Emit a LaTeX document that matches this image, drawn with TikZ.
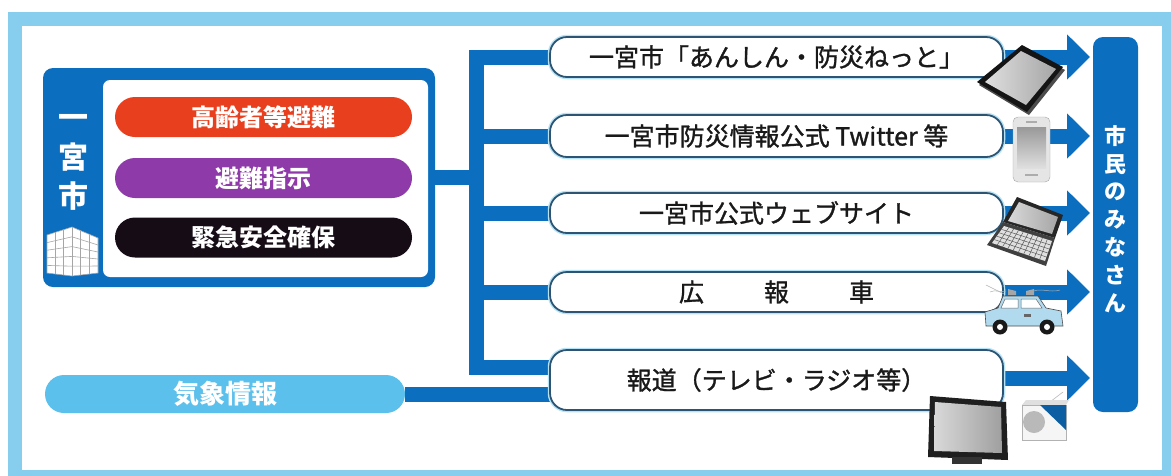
\documentclass[tikz,border=0pt]{standalone}
\usepackage{fontspec}
\setmainfont{Noto Sans CJK JP}
\newfontfamily\chanfont{Noto Sans CJK JP}[FakeBold=1.2]
\usetikzlibrary{arrows.meta,calc}

\definecolor{frameblue}{RGB}{135,205,238}
\definecolor{cityblue}{RGB}{12,110,190}
\definecolor{edgeblue}{RGB}{45,85,115}
\definecolor{alertred}{RGB}{232,64,30}
\definecolor{alertpurple}{RGB}{142,58,168}
\definecolor{alertblack}{RGB}{22,12,22}
\definecolor{skyblue}{RGB}{92,192,236}
\definecolor{inktext}{RGB}{25,25,25}
\definecolor{carblue}{RGB}{178,218,238}

\pgfdeclarelayer{back}
\pgfdeclarelayer{mid}
\pgfsetlayers{back,mid,main}

\begin{document}
\begin{tikzpicture}[x=1pt,y=-1pt,
  pill/.style={rounded corners=20pt, minimum width=297pt, minimum height=40pt,
    inner sep=0pt, text=white, font=\fontsize{24}{24}\selectfont\bfseries},
  chanbox/.style={draw=edgeblue, line width=1.8pt, fill=white,
    preaction={draw=skyblue!45, line width=4.5pt},
    rounded corners=17pt, minimum width=453pt, minimum height=40pt,
    inner sep=0pt, text=inktext, font=\chanfont\fontsize{25}{25}\selectfont},
  bus/.style={draw=cityblue, line width=15pt},
  flow/.style={draw=cityblue, line width=15pt, -{Triangle[length=23pt,width=44pt]}},
  vlabel/.style={text=white, align=center, inner sep=0pt}]

\useasboundingbox (0,0) rectangle (1171,475);
\clip (0,0) rectangle (1171,475);

% page and outer frame
\begin{pgfonlayer}{back}
  \fill[white] (0,0) rectangle (1171,475);
  \draw[frameblue, line width=14pt] (15,18.5) rectangle (1169,477);
\end{pgfonlayer}

% issuing city block
\node[fill=cityblue, rounded corners=10pt, minimum width=392pt, minimum height=219pt, inner sep=0pt] (city) at (239,177.5) {};
\node[fill=white, rounded corners=7pt, minimum width=325pt, minimum height=197pt, inner sep=0pt] (cityin) at (265.5,178.5) {};
\node[vlabel, font=\fontsize{30}{39.5}\selectfont\bfseries] (cityname) at (73,162.5) {一\\宮\\市};

\node[pill, fill=alertred] (p1) at (263.5,117) {高齢者等避難};
\node[pill, fill=alertpurple] (p2) at (263.5,178) {避難指示};
\node[pill, fill=alertblack] (p3) at (263.5,237.5) {緊急安全確保};

% weather information
\node[pill, fill=skyblue, minimum width=360pt, minimum height=38pt, rounded corners=19pt,
  font=\fontsize{26}{26}\selectfont\bfseries] (wx) at (225,394) {気象情報};

% channels
\node[chanbox] (b1) at (776.5,57) {一宮市「あんしん・防災ねっと」};
\node[chanbox, minimum height=42pt] (b2) at (776.5,136) {一宮市防災情報公式 Twitter 等};
\node[chanbox] (b3) at (776.5,213) {一宮市公式ウェブサイト};
\node[chanbox] (b4) at (776.5,292) {広\hspace{60pt}報\hspace{60pt}車};
\node[chanbox, minimum height=60pt] (b5) at (776.5,380) {報道（テレビ・ラジオ等）};

% residents
\node[fill=cityblue, rounded corners=10pt, minimum width=45pt, minimum height=375pt, inner sep=0pt] (ppl) at (1115.5,224.5) {};
\node[vlabel, font=\fontsize{22}{27.8}\selectfont\bfseries] (pplname) at (1115.5,219) {市\\民\\の\\み\\な\\さ\\ん};

\coordinate (busx) at (476,0);
\coordinate (tipx) at (1090,0);

% distribution lines and arrows
\begin{pgfonlayer}{mid}
  \draw[bus] (b1.west) -- (b1.west -| busx) |- ($(b5.west)+(10,-13)$);
  \foreach \b in {b2,b3,b4} \draw[bus] (\b.west) -- (\b.west -| busx);
  \draw[bus] (city.east) -- (city.east -| busx);
  \draw[bus] (wx.east) -- ($(b5.west)+(10,14)$);
  \foreach \b in {b1,b2,b3,b4} \draw[flow] (\b.east) -- (\b.east -| tipx);
  \draw[flow] ($(b5.east)+(0,-2)$) -- ($(b5.east -| tipx)+(0,-2)$);
\end{pgfonlayer}

% building icon
\begin{scope}[draw=gray!70, line width=0.6pt]
  \fill[white] (47,235) -- (72,227) -- (98,238) -- (98,273) -- (72,276) -- (47,273) -- cycle;
  \draw (47,235) -- (72,227) -- (98,238) -- (98,273) -- (72,276) -- (47,273) -- cycle;
  \draw (72,227) -- (72,276);
  \foreach \t in {0.2,0.4,0.6,0.8} {
    \draw ($(47,235)!\t!(47,273)$) -- ($(72,227)!\t!(72,276)$);
    \draw ($(72,227)!\t!(72,276)$) -- ($(98,238)!\t!(98,273)$);
  }
  \foreach \t in {0.33,0.66} {
    \draw ($(47,235)!\t!(72,227)$) -- ($(47,273)!\t!(72,276)$);
    \draw ($(72,227)!\t!(98,238)$) -- ($(72,276)!\t!(98,273)$);
  }
\end{scope}

% tablet
\fill[black!70] (1024,48) -- (1065,70) -- (1029,115) -- (979,85) -- cycle;
\fill[black!92] (1022,45) -- (1063,67) -- (1027,112) -- (977,82) -- cycle;
\shade[left color=gray!25, right color=gray!70] (1021,51) -- (1056,69) -- (1026,105) -- (985,82) -- cycle;

% phone
\draw[gray!70, fill=gray!20, rounded corners=5pt] (1013,117) rectangle (1050,182);
\shade[top color=gray!80, bottom color=gray!25] (1017,127) rectangle (1046,168);
\draw[gray!65, line width=1.4pt] (1026,122) -- (1037,122);
\draw[gray!65, line width=1.2pt] (1025,175) -- (1038,175);

% laptop
\fill[black!85] (1017,197) -- (1063,215) -- (1055,238) -- (1003,222) -- cycle;
\shade[left color=gray!30, right color=gray!70] (1019,202) -- (1058,217) -- (1052,234) -- (1008,221) -- cycle;
\fill[black!75] (1003,222) -- (1055,238) -- (1046,266) -- (987,245) -- cycle;
\fill[gray!25] (1004,226) -- (1052,241) -- (1045,261) -- (992,243) -- cycle;
\begin{scope}[draw=black!65, line width=0.5pt]
  \foreach \t in {0.2,0.4,0.6,0.8}
    \draw ($(1004,226)!\t!(992,243)$) -- ($(1052,241)!\t!(1045,261)$);
  \foreach \t in {0.1,0.2,...,0.91}
    \draw ($(1004,226)!\t!(1052,241)$) -- ($(992,243)!\t!(1045,261)$);
\end{scope}

% loudspeaker car
\draw[gray!60, line width=0.5pt] (1004,294) -- (986,285);
\draw[gray!60, line width=0.5pt] (990,292) .. controls (996,289) and (1000,293) .. (1006,291);
\draw[gray!60, line width=0.5pt] (1034,291) .. controls (1042,288) and (1050,293) .. (1060,290);
\fill[gray!70] (1008,289) -- (1016,291) -- (1016,295) -- (1008,295) -- cycle;
\fill[gray!70] (1026,291) -- (1034,289) -- (1034,295) -- (1026,295) -- cycle;
\draw[black!70, fill=carblue, line width=0.6pt] (986,326) -- (985,312) -- (998,308) -- (1003,296) -- (1038,296) -- (1046,308) -- (1061,311) -- (1063,326) -- cycle;
\draw[black!60, fill=white, line width=0.5pt] (1005,299) -- (1018,299) -- (1018,308) -- (1001,308) -- cycle;
\draw[black!60, fill=white, line width=0.5pt] (1021,299) -- (1036,299) -- (1042,308) -- (1021,308) -- cycle;
\fill[black!60] (1024,314) rectangle (1031,317);
\foreach \w in {1000,1047} {
  \fill[black!90] (\w,327) circle (7.5);
  \fill[white] (\w,327) circle (3);
}

% television
\fill[black!88] (930,396) -- (1006,402) -- (1008,460) -- (928,457) -- cycle;
\shade[left color=gray!30, right color=gray!75] (935,402) -- (1001,407) -- (1002,453) -- (934,451) -- cycle;
\fill[black!80] (952,457) rectangle (982,464);

% radio
\draw[gray!55, line width=0.6pt] (1046,405) -- (1063,392);
\fill[gray!25] (1022,405) -- (1026,400) -- (1069,400) -- (1066,405) -- cycle;
\draw[gray!60, fill=gray!8, line width=0.7pt] (1022,405) rectangle (1066,440);
\fill[cityblue!85!black] (1040,405) -- (1066,405) -- (1066,430) -- cycle;
\fill[gray!55] (1034,422) circle (11);
\end{tikzpicture}
\end{document}
